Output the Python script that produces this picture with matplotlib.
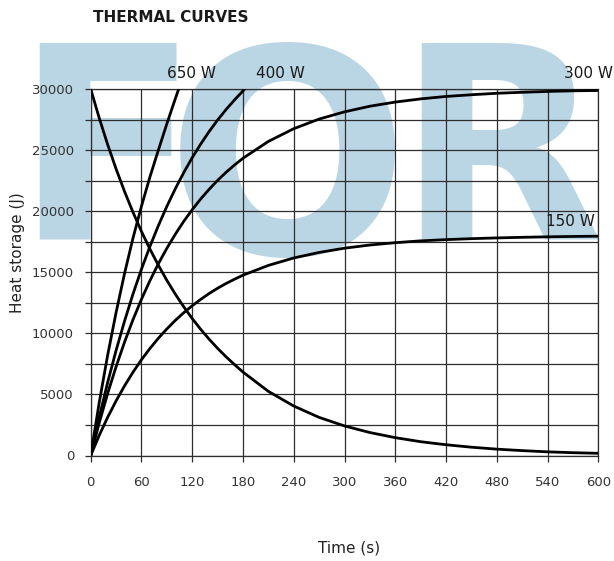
import matplotlib
matplotlib.use("Agg")
import matplotlib.pyplot as plt
from matplotlib.ticker import MultipleLocator

# values
t_cool = [0, 10, 20, 30, 40, 50, 60, 70, 80, 90, 100, 110, 120, 130, 140, 150, 160, 170, 180,
          210, 240, 270, 300, 330, 360, 390, 420, 450, 480, 510, 540, 570, 600]
q_cool = [30000, 27640, 25460, 23460, 21610, 19910, 18340, 16900, 15570, 14340, 13210, 12170, 11210,
          10330, 9520, 8770, 8080, 7440, 6830, 5250, 4050, 3120, 2420, 1880, 1460, 1130, 880, 680,
          520, 400, 300, 230, 180]

t_150 = [0, 10, 20, 30, 40, 50, 60, 70, 80, 90, 100, 110, 120, 130, 140, 150, 160, 170, 180,
         210, 240, 270, 300, 330, 360, 390, 420, 450, 480, 510, 540, 570, 600]
q_150 = [0, 1640, 3120, 4470, 5700, 6820, 7840, 8760, 9600, 10360, 11060, 11690, 12260, 12780, 13260,
         13690, 14080, 14430, 14760, 15560, 16170, 16620, 16970, 17230, 17420, 17570, 17670, 17750,
         17810, 17860, 17900, 17930, 17950]

t_300 = [0, 10, 20, 30, 40, 50, 60, 70, 80, 90, 100, 110, 120, 130, 140, 150, 160, 170, 180,
         210, 240, 270, 300, 330, 360, 390, 420, 450, 480, 510, 540, 570, 600]
q_300 = [0, 2650, 5070, 7270, 9280, 11120, 12790, 14310, 15700, 16960, 18110, 19170, 20120, 21000,
         21790, 22520, 23180, 23780, 24330, 25710, 26750, 27540, 28130, 28590, 28930, 29190, 29390,
         29530, 29650, 29730, 29800, 29850, 29880]

t_400 = [0, 10, 20, 30, 40, 50, 60, 70, 80, 90, 100, 110, 120, 130, 140, 150, 160, 170, 180, 182]
q_400 = [0, 3110, 5970, 8600, 11000, 13220, 15250, 17110, 18820, 20390, 21830, 23160, 24380, 25490,
         26520, 27460, 28320, 29110, 29840, 30000]

t_650 = [0, 10, 20, 30, 40, 50, 60, 70, 80, 90, 100, 104]
q_650 = [0, 4300, 8200, 11700, 14900, 17800, 20400, 22800, 25000, 27150, 29200, 30000]

curve_labels = ["650 W", "400 W", "300 W", "150 W"]
label_x = [119, 224, 588, 567]
label_y = [31250, 31250, 31250, 19190]

fig = plt.figure(figsize=(6.14, 5.61), dpi=100, facecolor="white")

# watermark behind the chart
wm_color = "#bad6e5"
wm = [("F", 14, 238, 194), ("O", 166, 254, 206), ("R", 396, 238, 194)]
for letter, px, py, fs in wm:
    fig.text(px / 614, 1 - py / 561, letter, fontsize=fs, fontweight="bold", color=wm_color,
             ha="left", va="baseline", zorder=-5)

ax = fig.add_axes([90.7 / 614, 1 - 455.5 / 561, (598.3 - 90.7) / 614, (455.5 - 89) / 561])
ax.patch.set_alpha(0)

grid_c = "#2e2e2e"
for tt, qq in [(t_cool, q_cool), (t_150, q_150), (t_300, q_300), (t_400, q_400), (t_650, q_650)]:
    ax.plot(tt, qq, color="black", lw=2.0, zorder=3, solid_joinstyle="round")

ax.set_xlim(0, 600)
ax.set_ylim(0, 30000)
ax.xaxis.set_major_locator(MultipleLocator(60))
ax.yaxis.set_major_locator(MultipleLocator(5000))
ax.yaxis.set_minor_locator(MultipleLocator(2500))

ax.grid(True, which="both", color=grid_c, lw=0.9, zorder=1)
ax.set_axisbelow(True)
for s in ax.spines.values():
    s.set_color(grid_c)
    s.set_linewidth(0.9)

ax.tick_params(which="both", direction="out", length=4, width=0.9, color=grid_c,
               labelcolor="#333333", labelsize=9.5)
ax.tick_params(axis="x", pad=11)
ax.tick_params(axis="y", pad=8)

for txt, x, y in zip(curve_labels, label_x, label_y):
    ax.text(x, y, txt, fontsize=11, color="#1a1a1a", ha="center", va="center", clip_on=False)

fig.text(349 / 614, 1 - 548 / 561, "Time (s)", fontsize=11, color="#222222", ha="center", va="center")
fig.text(18 / 614, 1 - 253 / 561, "Heat storage (J)", fontsize=11, color="#222222", ha="center",
         va="center", rotation=90)
fig.text(93 / 614, 1 - 18 / 561, "THERMAL CURVES", fontsize=11, fontweight="bold", color="#1a1a1a",
         ha="left", va="center")

fig.savefig("out.png", dpi=100)
